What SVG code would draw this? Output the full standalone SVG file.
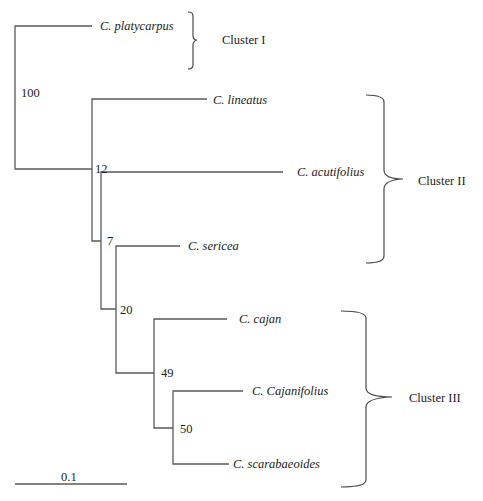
<svg xmlns="http://www.w3.org/2000/svg" width="483" height="501" viewBox="0 0 483 501">
<style>
.ln{stroke:#5a5a5a;stroke-width:1.3;fill:none}
.br{stroke:#4a4a4a;stroke-width:1.2;fill:none}
.t{font-family:'Liberation Serif','Times New Roman',Times,serif;font-size:12.5px;fill:#222}
.sp{font-style:italic}
</style>
<rect width="483" height="501" fill="#ffffff"/>
<g id="connectors">
<path class="ln" d="M92,26H15V169H92"/>
<path class="ln" d="M207,99H92V241H101"/>
<path class="ln" d="M283,172H101V309H116"/>
<path class="ln" d="M180,246H116V373H154"/>
<path class="ln" d="M227,319H154V428H173"/>
<path class="ln" d="M243,391H173V464H229"/>
</g>
<g font-family="Liberation Serif, serif" class="t">
<g id="n-platycarpus"><text class="t sp" x="100" y="30">C. platycarpus</text></g>
<g id="n-lineatus"><text class="t sp" x="213" y="104">C. lineatus</text></g>
<g id="n-acutifolius"><text class="t sp" x="297" y="176">C. acutifolius</text></g>
<g id="n-sericea"><text class="t sp" x="188" y="250">C. sericea</text></g>
<g id="n-cajan"><text class="t sp" x="239" y="323">C. cajan</text></g>
<g id="n-cajanifolius"><text class="t sp" x="252" y="395">C. Cajanifolius</text></g>
<g id="n-scarabaeoides"><text class="t sp" x="233" y="468">C. scarabaeoides</text></g>
<g id="bootstrap">
<text class="t" x="21" y="97">100</text>
<text class="t" x="95" y="173">12</text>
<text class="t" x="107" y="245">7</text>
<text class="t" x="120" y="314">20</text>
<text class="t" x="161" y="377">49</text>
<text class="t" x="180" y="433">50</text>
</g>
</g>
<g id="cluster-1">
<path class="br" d="M188,12Q193,12 193,16V36Q193,40 197,40Q193,41 193,45V65Q193,69 188,69"/>
<text class="t" x="222" y="44">Cluster I</text>
</g>
<g id="cluster-2">
<path class="br" d="M366,95Q384,95 384,102V170Q384,179 403,179Q384,180 384,189V256Q384,263 366,263"/>
<text class="t" x="418" y="185">Cluster II</text>
</g>
<g id="cluster-3">
<path class="br" d="M341,311Q366,311 366,318V388Q366,397 392,397Q366,398 366,407V480Q366,487 341,487"/>
<text class="t" x="409" y="402">Cluster III</text>
</g>
<g id="scale">
<path class="ln" d="M15,484H127"/>
<text class="t" x="61" y="481">0.1</text>
</g>
</svg>
